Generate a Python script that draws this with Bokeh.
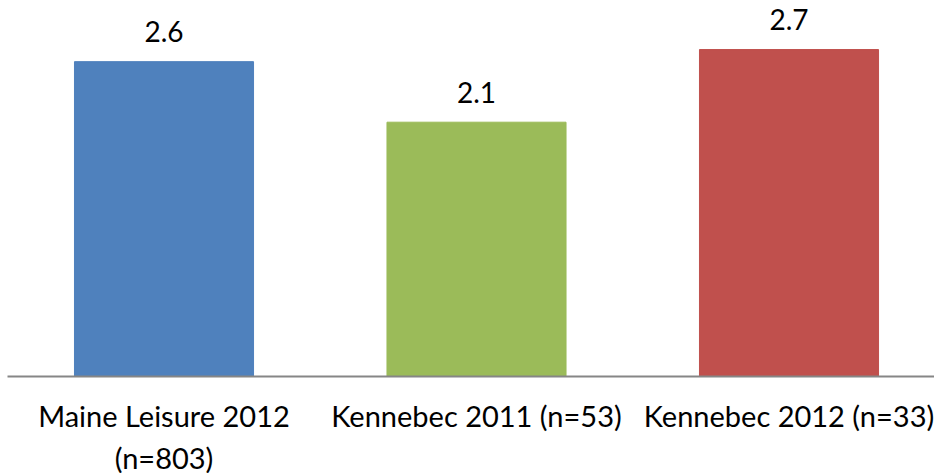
from bokeh.plotting import figure
from bokeh.models import ColumnDataSource, Range1d, FixedTicker
from bokeh.core.properties import value
from bokeh.embed import file_html
from bokeh.resources import INLINE

categories = ["Maine Leisure 2012\n(n=803)", "Kennebec 2011 (n=53)", "Kennebec 2012 (n=33)"]
values = [2.6, 2.1, 2.7]
colors = ["#4F81BD", "#9BBB59", "#C0504D"]
value_labels = ["2.6", "2.1", "2.7"]

xs = list(range(len(categories)))
src = ColumnDataSource(dict(x=xs, top=values, color=colors, label=value_labels))

FONT = "Lato"

p = figure(frame_width=927, frame_height=376, output_backend="svg", toolbar_location=None,
           x_range=Range1d(-0.5008, 2.4656), y_range=Range1d(0, 3.105),
           min_border_left=7, min_border_right=0, min_border_top=0, min_border_bottom=0)

p.vbar(x="x", top="top", bottom=0, width=0.573, color="color", source=src)
p.text(x="x", y="top", text="label", source=src, text_align="center",
       text_baseline="alphabetic", y_offset=-30, text_font=value(FONT),
       text_font_size="28px", text_color="#000000")

p.yaxis.visible = False
p.xgrid.visible = False
p.ygrid.visible = False
p.outline_line_color = None

ax = p.xaxis[0]
ax.ticker = FixedTicker(ticks=xs)
ax.major_label_overrides = {i: c for i, c in zip(xs, categories)}
ax.major_tick_line_color = None
ax.minor_tick_line_color = None
ax.axis_line_color = "#868686"
ax.axis_line_width = 2
ax.major_label_text_font = FONT
ax.major_label_text_font_size = "29px"
ax.major_label_text_color = "#000000"
ax.major_label_standoff = 15

open("out.html", "w").write(file_html(p, INLINE))
